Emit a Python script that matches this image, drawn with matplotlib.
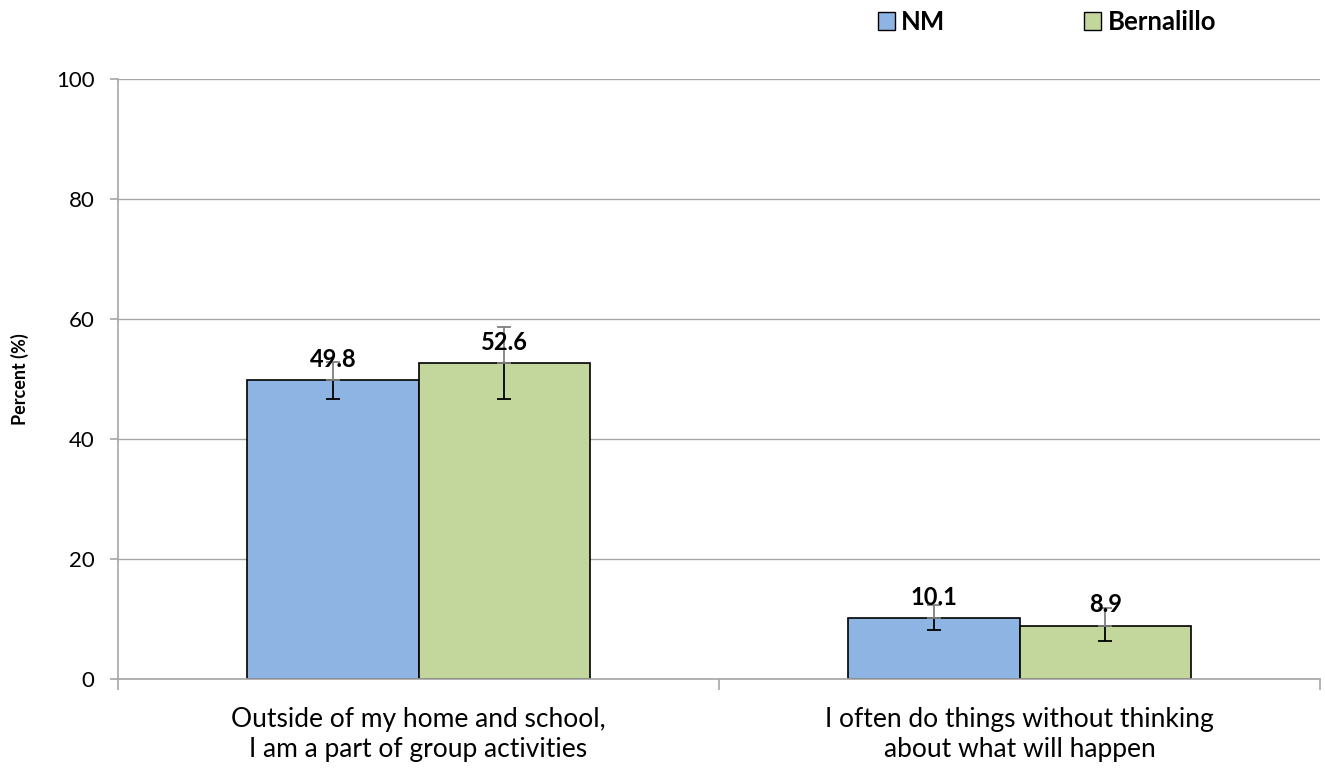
import matplotlib
matplotlib.use("Agg")
import matplotlib.pyplot as plt
import numpy as np
from matplotlib.patches import Patch

plt.rcParams['font.family'] = ['Lato', 'DejaVu Sans']

categories = ["Outside of my home and school,\nI am a part of group activities",
              "I often do things without thinking\nabout what will happen"]
series_names = ["NM", "Bernalillo"]
nm_values = [49.8, 10.1]
bern_values = [52.6, 8.9]
nm_lower = [46.7, 8.2]
nm_upper = [52.9, 12.3]
bern_lower = [46.7, 6.4]
bern_upper = [58.6, 11.8]
yticks = [0, 20, 40, 60, 80, 100]

colors = ["#8EB4E3", "#C3D69B"]

fig = plt.figure(figsize=(13.25, 7.73), dpi=100)
ax = fig.add_axes([118/1325, 1-679/773, 1202/1325, 600/773])

x = np.arange(len(categories))
w = 0.285
grid_c = "#A6A6A6"

for i, (vals, lo, hi, col) in enumerate([(nm_values, nm_lower, nm_upper, colors[0]),
                                          (bern_values, bern_lower, bern_upper, colors[1])]):
    pos = x + (i - 0.5) * w
    ax.bar(pos, vals, width=w, color=col, edgecolor="black", linewidth=1.2, zorder=2)
    vals_a = np.array(vals)
    ax.errorbar(pos, vals_a, yerr=[vals_a - np.array(lo), np.zeros_like(vals_a)],
                fmt='none', ecolor='black', elinewidth=1.3, capsize=5, capthick=1.3, zorder=3)
    ax.errorbar(pos, vals_a, yerr=[np.zeros_like(vals_a), np.array(hi) - vals_a],
                fmt='none', ecolor='#808080', elinewidth=1.3, capsize=5, capthick=1.3, zorder=3)
    for p, v in zip(pos, vals):
        ax.text(p, v + 1.6, f"{v:.1f}", ha='center', va='bottom', fontsize=17,
                fontweight='bold', color='black', zorder=4)

ax.set_xlim(-0.5, 1.5)
ax.set_ylim(0, 100)
ax.set_yticks(yticks)
ax.set_yticklabels([str(t) for t in yticks], fontsize=16)
ax.yaxis.grid(True, color=grid_c, linewidth=1)
ax.set_axisbelow(True)

ax.set_xticks([-0.5, 0.5, 1.5], minor=False)
ax.set_xticklabels([])
ax.set_xticks(x, minor=True)
ax.set_xticklabels(categories, minor=True, fontsize=19, linespacing=1.25)
ax.tick_params(axis='x', which='minor', length=0, pad=20)
ax.tick_params(axis='x', which='major', length=8, color=grid_c, width=1.2)
ax.tick_params(axis='y', length=6, color=grid_c, width=1.2, pad=11)

for s in ['top', 'right']:
    ax.spines[s].set_visible(False)
for s in ['left', 'bottom']:
    ax.spines[s].set_color(grid_c)
    ax.spines[s].set_linewidth(1.2)

ax.set_ylabel("Percent (%)", fontsize=13, fontweight='bold', labelpad=19)

handles = [Patch(facecolor=c, edgecolor='black', linewidth=1) for c in colors]
leg = fig.legend(handles, series_names, loc='center', bbox_to_anchor=(1047/1325, 1-22/773),
                 ncol=2, frameon=False, prop={'weight': 'bold', 'size': 18.5},
                 handlelength=0.65, handleheight=0.65, handletextpad=0.25, columnspacing=5.4)

fig.savefig("out.png", dpi=100)
